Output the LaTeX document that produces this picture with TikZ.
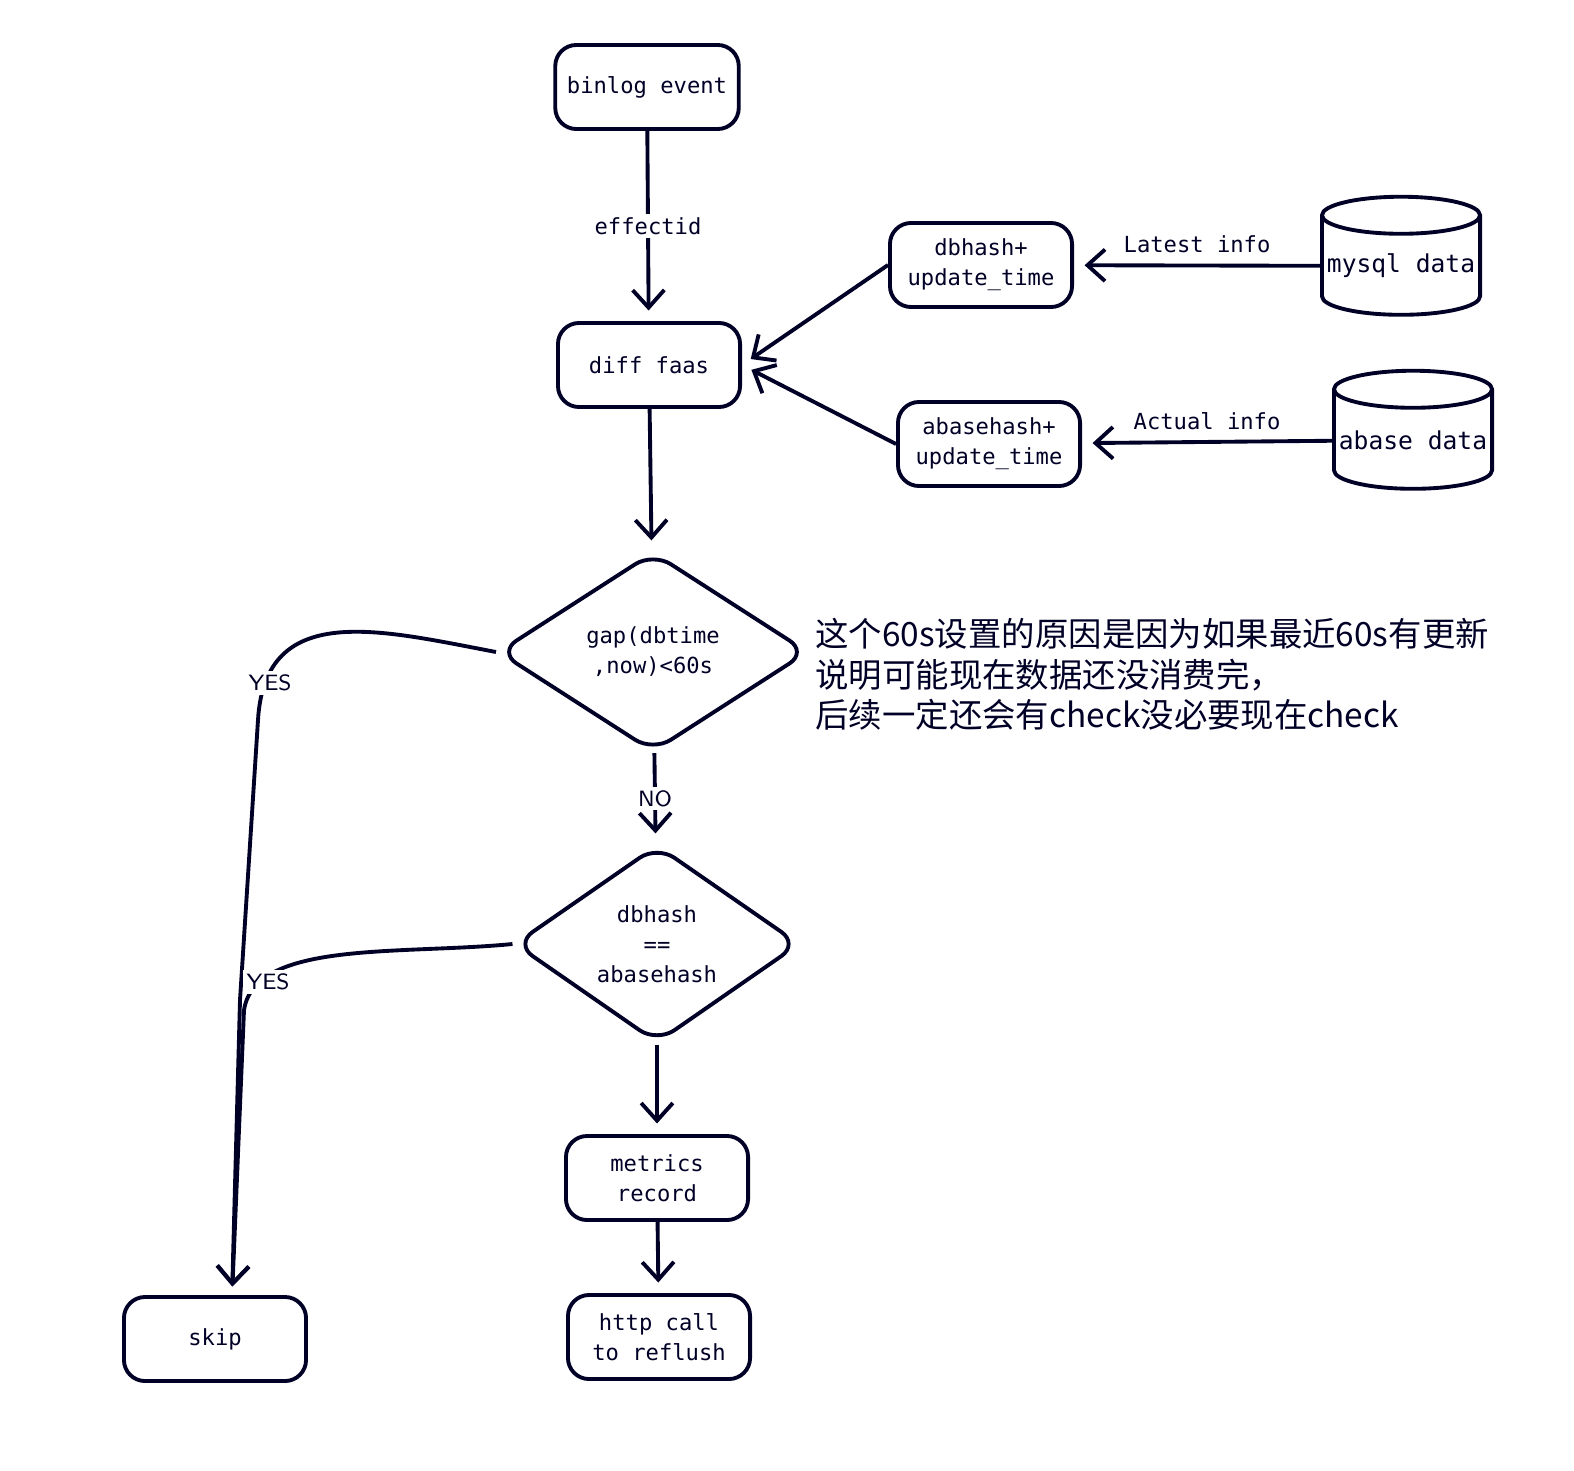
\documentclass[tikz,border=0pt]{standalone}
\usepackage{fontspec}
\setmainfont{DejaVu Sans Mono}
\newfontfamily\cjk{Noto Sans CJK SC}
\usetikzlibrary{shapes.geometric,arrows.meta,positioning}
\tikzset{
  box/.style={draw,rounded corners=6pt,line width=1.1pt,minimum width=1.82cm,minimum height=0.84cm,align=center,font=\fontsize{6.3}{8.5}\selectfont},
  dec/.style={draw,diamond,rounded corners=6pt,line width=1.1pt,minimum width=3cm,minimum height=2cm,align=center,font=\fontsize{6.3}{8.5}\selectfont,inner sep=0pt},
  db/.style={draw,cylinder,shape border rotate=90,aspect=0.25,line width=1.1pt,minimum width=1.58cm,minimum height=1.18cm,font=\fontsize{7}{9}\selectfont,inner sep=0pt},
  lbl/.style={font=\fontsize{6.3}{8}\selectfont,fill=white,inner sep=1pt},
  yes/.style={lbl,font=\sffamily\fontsize{6.3}{8}\selectfont},
  flow/.style={->,>={Straight Barb[length=5pt,width=9pt]},line width=1.1pt,color=black!85!blue,shorten >=3pt}
}
\begin{document}
\begin{tikzpicture}[x=0.01cm,y=-0.01cm,color=black!85!blue]
\useasboundingbox (0,0) rectangle (1574,1470);
\node (binlog) [box] at (647,87) {binlog event};
\node (diff) [box] at (649,365) {diff faas};
\node (dbh) [box] at (981,265) {dbhash+\\update\_time};
\node (abh) [box] at (989,444) {abasehash+\\update\_time};
\node (mysql) [db] at (1401,266) {mysql data};
\node (abase) [db] at (1413,440) {abase data};
\node (gap) [dec,minimum width=3.1cm] at (653,652) {gap(dbtime\\,now)<60s};
\node (eq) [dec,minimum width=2.85cm,minimum height=1.98cm] at (657,944) {dbhash\\==\\abasehash};
\node (metrics) [box] at (657,1178) {metrics\\ record};
\node (http) [box] at (659,1337) {http call\\to reflush};
\node (skip) [box] at (215,1339) {skip};
\coordinate (skiptop) at (232,1297);
\node (note) [anchor=north west,align=left,font=\cjk\fontsize{9.5}{11.5}\selectfont] at (803,606)
  {这个60s设置的原因是因为如果最近60s有更新\\说明可能现在数据还没消费完，\\后续一定还会有check没必要现在check};

\draw[flow] (binlog) -- node[lbl] {effectid} (diff);
\draw[flow] (dbh.west) -- (diff.east);
\draw[flow] (abh.west) -- (diff.east);
\draw[flow] (mysql) -- node[lbl,above=2pt,fill=none] {Latest info} (dbh);
\draw[flow] (abase) -- node[lbl,above=2pt,fill=none] {Actual info} (abh);
\draw[flow] (diff) -- (gap);
\draw[flow] (gap) -- node[yes] {NO} (eq);
\draw[flow] (gap.west) .. controls (380,630) and (265,600) .. (258,720) -- (240,1000) -- (skiptop);
\node[yes] at (270,683) {YES};
\draw[flow] (eq.west) .. controls (400,955) and (255,940) .. (244,1010) -- (skiptop);
\node[yes] at (268,982) {YES};
\draw[flow] (eq) -- (metrics);
\draw[flow] (metrics) -- (http);
\end{tikzpicture}
\end{document}
